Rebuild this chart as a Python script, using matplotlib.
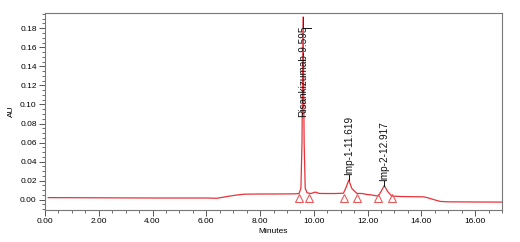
import matplotlib
matplotlib.use("Agg")
import matplotlib.pyplot as plt
from matplotlib.ticker import MultipleLocator, FormatStrFormatter

plt.rcParams['font.family'] = ['Liberation Sans', 'DejaVu Sans']

# Chromatogram trace (minutes, AU)
time_min = [0.12, 1.0, 2.0, 3.0, 4.0, 5.0, 6.0, 6.4, 6.8, 7.1, 7.4, 8.0, 8.5, 9.0, 9.3, 9.45,
            9.52, 9.56, 9.6, 9.64, 9.68, 9.75, 9.9, 10.05, 10.2, 10.5, 10.8, 11.1,
            11.18, 11.3, 11.42, 11.6, 11.8, 11.95, 12.1, 12.3, 12.4,
            12.5, 12.62, 12.75, 12.9, 13.3, 13.8, 14.1, 14.3, 14.5, 14.7,
            15.0, 16.0, 17.0]
absorb_au = [0.0022, 0.0021, 0.0020, 0.0019, 0.0018, 0.0018, 0.0018, 0.0015, 0.0035, 0.0048, 0.0058,
             0.0060, 0.0060, 0.0061, 0.0062, 0.0065,
             0.012, 0.060, 0.192, 0.060, 0.012, 0.0072, 0.0065, 0.0080, 0.0066, 0.0065, 0.0065, 0.0068,
             0.0115, 0.0205, 0.0115, 0.0066, 0.0065, 0.0056, 0.0052, 0.0042, 0.0040,
             0.0085, 0.0148, 0.0085, 0.0038, 0.0033, 0.0031, 0.0030, 0.0015, -0.0002, -0.0018,
             -0.0022, -0.0024, -0.0025]

# Integration start/end markers
marker_times = [9.45, 9.83, 11.11, 11.6, 12.4, 12.91]
marker_au = [0.0015, 0.0015, 0.0015, 0.0015, 0.0015, 0.0015]

# Peak labels
peak_labels = ["Risankizumab-9.595", "Imp-1-11.619", "Imp-2-12.917"]
peak_times = [9.6, 11.3, 12.62]
peak_apex = [0.192, 0.0205, 0.0148]
label_base = [0.087, 0.026, 0.020]

fig = plt.figure(figsize=(5.2, 2.42), dpi=100)
ax = fig.add_axes([45/520, 32/242, 457/520, 197/242])

trace_color = '#e8323a'
ax.plot(time_min, absorb_au, color=trace_color, lw=0.9)
ax.plot(marker_times, marker_au, linestyle='none', marker='^', markersize=6,
        markerfacecolor='none', markeredgecolor='#e85a5a', markeredgewidth=0.8)

for lab, t, apex, base in zip(peak_labels, peak_times, peak_apex, label_base):
    ax.text(t, base, lab, rotation=90, ha='center', va='bottom', fontsize=7.2, color='#111111')
    if apex > base:
        ax.plot([t, t], [base + 0.093, apex], color='#333333', lw=0.7)
        ax.plot([t, t + 0.3], [base + 0.093, base + 0.093], color='#111111', lw=0.7)
    else:
        ax.plot([t, t], [apex, base], color='#111111', lw=0.7)

ax.set_xlim(0, 17.0)
ax.set_ylim(-0.0108, 0.196)
ax.xaxis.set_major_locator(MultipleLocator(2))
ax.xaxis.set_minor_locator(MultipleLocator(0.5))
ax.yaxis.set_major_locator(MultipleLocator(0.02))
ax.yaxis.set_minor_locator(MultipleLocator(0.005))
ax.xaxis.set_major_formatter(FormatStrFormatter('%.2f'))
ax.yaxis.set_major_formatter(FormatStrFormatter('%.2f'))
ax.tick_params(which='major', length=4, width=0.7, labelsize=6, color='#555555', pad=2)
ax.tick_params(which='minor', length=2, width=0.6, color='#555555')
for s in ax.spines.values():
    s.set_color('#777777')
    s.set_linewidth(0.8)

ax.set_xlabel('Minutes', fontsize=6, labelpad=2)
ax.set_ylabel('AU', fontsize=6, labelpad=4)

fig.savefig('out.png', dpi=100)
